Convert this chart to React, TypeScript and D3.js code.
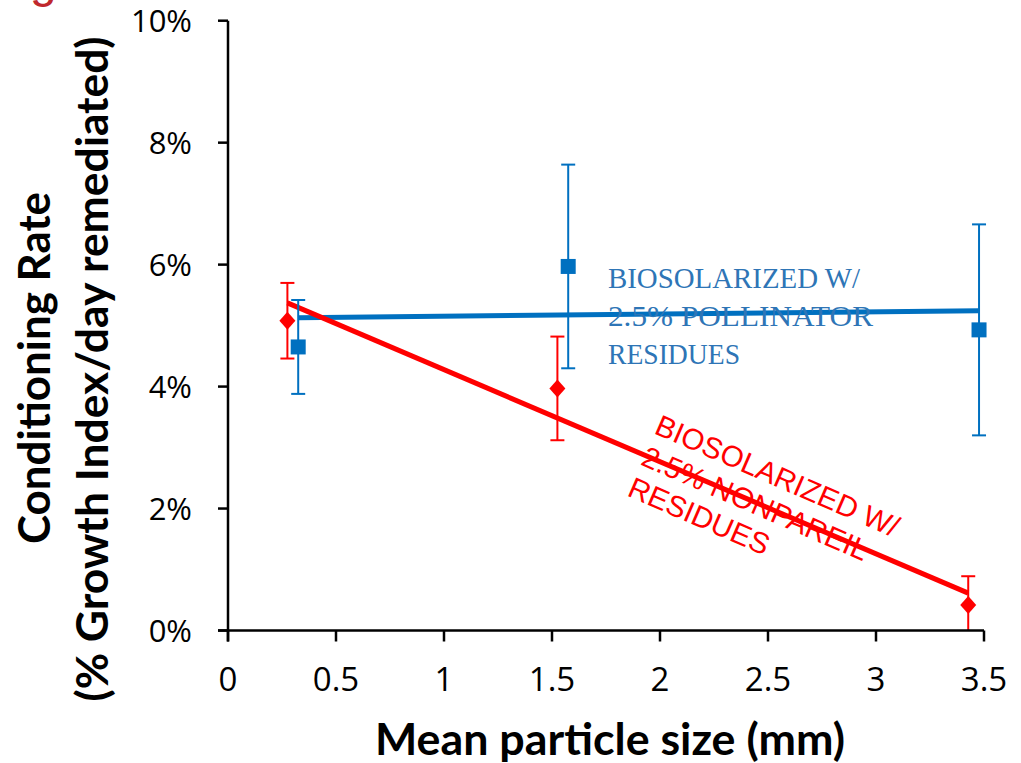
import React from "react";
import * as d3 from "d3";

const xTicks = [0, 0.5, 1, 1.5, 2, 2.5, 3, 3.5];
const xTickLabels = ["0", "0.5", "1", "1.5", "2", "2.5", "3", "3.5"];
const yTicks = [0, 0.02, 0.04, 0.06, 0.08, 0.1];
const yTickLabels = ["0%", "2%", "4%", "6%", "8%", "10%"];

// Biosolarized w/ 2.5% pollinator residues (blue squares)
const pollinatorSize = [0.325, 1.575, 3.477];
const pollinatorRate = [0.0465, 0.0597, 0.0493];
const pollinatorErr = [0.0077, 0.0167, 0.0173];

// Biosolarized w/ 2.5% nonpareil residues (red diamonds)
const nonpareilSize = [0.275, 1.525, 3.427];
const nonpareilRate = [0.0508, 0.0397, 0.0042];
const nonpareilErr = [0.0062, 0.0085, 0.0047];

const pollinatorLabel = ["BIOSOLARIZED W/", "2.5% POLLINATOR", "RESIDUES"];
const nonpareilLabel = ["BIOSOLARIZED W/", "2.5% NONPAREIL", "RESIDUES"];

const W = 1021;
const H = 763;
const BLUE = "#0070C0";
const BLUE_TEXT = "#2E75B6";
const RED = "#FF0000";

function fit(xs: number[], ys: number[]) {
  const mx = d3.mean(xs)!;
  const my = d3.mean(ys)!;
  let sxy = 0, sxx = 0;
  xs.forEach((x, i) => { sxy += (x - mx) * (ys[i] - my); sxx += (x - mx) ** 2; });
  const b = sxy / sxx;
  const a = my - b * mx;
  return (x: number) => a + b * x;
}

export default function App() {
  const x = d3.scaleLinear().domain([0, 3.5]).range([228, 984]);
  const y = d3.scaleLinear().domain([0, 0.1]).range([630.5, 20.7]);
  const line = d3.line<[number, number]>().x(d => x(d[0])).y(d => y(d[1]));

  const series = [
    { xs: pollinatorSize, ys: pollinatorRate, es: pollinatorErr, color: BLUE, shape: "square" },
    { xs: nonpareilSize, ys: nonpareilRate, es: nonpareilErr, color: RED, shape: "diamond" },
  ];

  const tickFont = "'Open Sans', sans-serif";
  const titleFont = "Lato, 'Open Sans', sans-serif";

  return (
    <svg width={W} height={H} style={{ position: "absolute", left: 0, top: 0, background: "#fff" }}>
      {/* clipped title letter from slide */}
      <text x={30} y={-3} fontFamily="'Liberation Sans', sans-serif" fontSize={48} fill="#C0282D">g</text>

      {/* trend lines */}
      {series.map((s, i) => {
        const f = fit(s.xs, s.ys);
        const x0 = d3.min(s.xs)!, x1 = d3.max(s.xs)!;
        return (
          <path key={"t" + i} d={line([[x0, f(x0)], [x1, f(x1)]])!} stroke={s.color} strokeWidth={5} fill="none" />
        );
      })}

      {/* error bars and markers */}
      {series.map((s, i) => (
        <g key={"s" + i}>
          {s.xs.map((xv, j) => {
            const cx = x(xv);
            const top = y(s.ys[j] + s.es[j]);
            const bot = y(Math.max(0, s.ys[j] - s.es[j]));
            const hasBotCap = s.ys[j] - s.es[j] > 0;
            const cy = y(s.ys[j]);
            return (
              <g key={j}>
                <line x1={cx} x2={cx} y1={top} y2={bot} stroke={s.color} strokeWidth={2} />
                <line x1={cx - 7} x2={cx + 7} y1={top} y2={top} stroke={s.color} strokeWidth={2} />
                {hasBotCap && <line x1={cx - 7} x2={cx + 7} y1={bot} y2={bot} stroke={s.color} strokeWidth={2} />}
                {s.shape === "square" ? (
                  <rect x={cx - 7.5} y={cy - 7.5} width={15} height={15} fill={s.color} />
                ) : (
                  <path d={`M${cx},${cy - 9}L${cx + 8},${cy}L${cx},${cy + 9}L${cx - 8},${cy}Z`} fill={s.color} />
                )}
              </g>
            );
          })}
        </g>
      ))}

      {/* axes */}
      <g stroke="#000" strokeWidth={2.5}>
        <line x1={x(0)} x2={x(0)} y1={y(0.1)} y2={y(0) + 11} />
        <line x1={x(0) - 10} x2={x(3.5)} y1={y(0)} y2={y(0)} />
        {yTicks.map(t => (
          <line key={"yt" + t} x1={x(0) - 10} x2={x(0)} y1={y(t)} y2={y(t)} />
        ))}
        {xTicks.map(t => (
          <line key={"xt" + t} x1={x(t)} x2={x(t)} y1={y(0)} y2={y(0) + 11} />
        ))}
      </g>
      {yTicks.map((t, i) => (
        <text key={"yl" + t} x={192} y={y(t)} dy="0.36em" textAnchor="end" fontFamily={tickFont} fontSize={31} fill="#000">
          {yTickLabels[i]}
        </text>
      ))}
      {xTicks.map((t, i) => (
        <text key={"xl" + t} x={x(t)} y={691} textAnchor="middle" fontFamily={tickFont} fontSize={33} fill="#000">
          {xTickLabels[i]}
        </text>
      ))}

      {/* axis titles */}
      <text x={375} y={755} fontFamily={titleFont} fontWeight="bold" fontSize={43}
        textLength={470} lengthAdjust="spacingAndGlyphs" fill="#000">
        Mean particle size (mm)
      </text>
      <g transform="translate(50,368) rotate(-90)">
        <text x={0} y={0} textAnchor="middle" fontFamily={titleFont} fontWeight="bold" fontSize={43}
          textLength={352} lengthAdjust="spacingAndGlyphs" fill="#000">Conditioning Rate</text>
      </g>
      <g transform="translate(108,369) rotate(-90)">
        <text x={0} y={0} textAnchor="middle" fontFamily={titleFont} fontWeight="bold" fontSize={43}
          textLength={665} lengthAdjust="spacingAndGlyphs" fill="#000">(% Growth Index/day remediated)</text>
      </g>

      {/* series annotations */}
      {pollinatorLabel.map((t, i) => (
        <text key={"pl" + i} x={608} y={288 + i * 38} fontFamily="'Liberation Serif', serif" fontSize={30} fill={BLUE_TEXT}
          textLength={[252, 265, 132][i]} lengthAdjust="spacingAndGlyphs">{t}</text>
      ))}
      <g transform="translate(653,433) rotate(23.5)">
        {nonpareilLabel.map((t, i) => (
          <text key={"nl" + i} x={0} y={i * 34} fontFamily="'Liberation Sans', sans-serif" fontSize={29.5} fill={RED}>{t}</text>
        ))}
      </g>
    </svg>
  );
}
